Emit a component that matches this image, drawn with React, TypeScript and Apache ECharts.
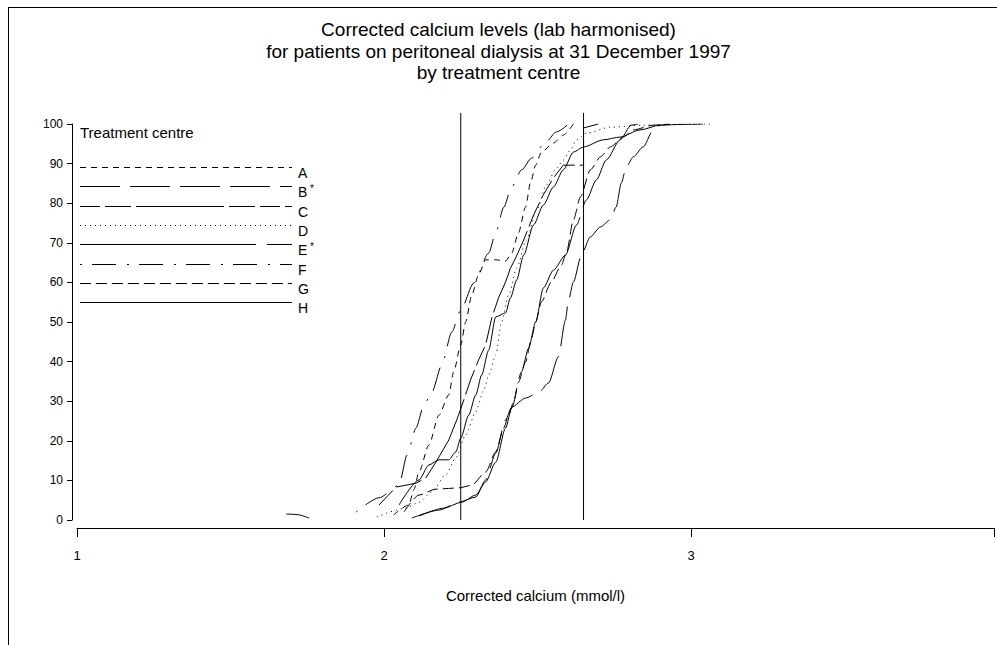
import React, { useEffect, useRef } from "react";
import * as echarts from "echarts";

// Treatment centres (legend order) and centres flagged with an asterisk
const centres = ["A", "B", "C", "D", "E", "F", "G", "H"];
const starred = ["B", "E"];

// Reference range lines (mmol/l)
const refLines = [2.25, 2.65];
const refLineTop = 102.8;

// Axis ticks
const xTickLabels = [1, 2, 3];
const yTickStep = 10;

// Cumulative % of patients vs corrected calcium (mmol/l)
const centreA = [
  [2.032, 1.3], [2.081, 3.8], [2.097, 7.6], [2.114, 12.1], [2.146, 18.9], [2.179, 26.5],
  [2.211, 31.6], [2.227, 37.4], [2.25, 44.2], [2.266, 50], [2.286, 56.8], [2.308, 61.9],
  [2.331, 65.7], [2.364, 65.7], [2.396, 65.4], [2.416, 67.4], [2.438, 72.5], [2.461, 79],
  [2.477, 85.1], [2.494, 89.6], [2.513, 92.9], [2.552, 95.2], [2.584, 97.2], [2.617, 100],
];
const centreB = [
  [2.091, 0.5], [2.179, 2.5], [2.244, 4.5], [2.299, 5.8], [2.331, 10.1], [2.364, 16.9],
  [2.396, 25.3], [2.416, 28.5], [2.461, 30.8], [2.503, 32.1], [2.536, 34.6], [2.568, 41.2],
  [2.591, 50.5], [2.601, 55.6], [2.617, 60.1], [2.643, 66.9], [2.672, 71.5], [2.705, 74],
  [2.737, 75.8], [2.756, 79], [2.773, 85.1], [2.789, 89.1], [2.812, 91.7], [2.844, 94.2],
  [2.877, 98.5], [2.899, 99.7], [2.932, 100],
];
const centreC = [
  [1.984, 3.8], [2.039, 8.3], [2.104, 9.3], [2.136, 10.6], [2.169, 14.6], [2.211, 20.2],
  [2.237, 25.3], [2.26, 30.3], [2.282, 35.4], [2.308, 40.4], [2.331, 44.2], [2.351, 51],
  [2.373, 56.1], [2.396, 60.1], [2.412, 63.6], [2.429, 66.2], [2.455, 70.7], [2.487, 77],
  [2.519, 82.1], [2.552, 86.4], [2.584, 89.6], [2.65, 89.6], [2.65, 99], [2.698, 100],
];
const centreD = [
  [1.977, 0.8], [2.071, 3], [2.114, 4.5], [2.156, 7.1], [2.201, 11.4], [2.234, 15.7],
  [2.266, 21.5], [2.299, 27.3], [2.325, 32.8], [2.341, 36.6], [2.364, 41.7], [2.383, 50],
  [2.406, 56.8], [2.432, 63.6], [2.464, 70.7], [2.497, 78.3], [2.529, 84.6], [2.562, 88.9],
  [2.584, 90.9], [2.607, 93.4], [2.627, 96], [2.659, 97.7], [2.737, 99.2], [2.844, 99.7],
  [2.951, 99.9], [3.062, 100],
];
const centreELow = [[1.682, 1.5], [1.724, 1.3], [1.756, 0.5]];
const centreE = [
  [2.114, 1], [2.195, 3], [2.253, 4.5], [2.299, 6.3], [2.331, 9.6], [2.364, 14.6],
  [2.396, 23.2], [2.416, 28.3], [2.448, 37.4], [2.471, 43.4], [2.494, 50], [2.519, 58.6],
  [2.552, 63.1], [2.591, 66.9], [2.627, 74.5], [2.659, 80.8], [2.692, 85.9], [2.724, 90.9],
  [2.769, 96], [2.805, 99.7], [2.828, 100],
];
const centreF = [
  [1.909, 2], [1.984, 5.6], [2.049, 8.8], [2.075, 16.4], [2.104, 23.2], [2.13, 29],
  [2.156, 32.3], [2.188, 39.1], [2.221, 47.5], [2.25, 53], [2.292, 59.8], [2.341, 67.4],
  [2.364, 72.5], [2.39, 79], [2.416, 84.1], [2.448, 88.4], [2.481, 91.4], [2.519, 94.7],
  [2.562, 98], [2.601, 100],
];
const centreG = [
  [2.065, 2], [2.114, 6.3], [2.169, 7.8], [2.244, 8.1], [2.286, 8.8], [2.331, 12.1],
  [2.364, 17.2], [2.39, 23.2], [2.406, 26.5], [2.422, 29.8], [2.438, 34.8], [2.461, 39.9],
  [2.481, 46], [2.494, 50], [2.513, 55.1], [2.545, 60.1], [2.578, 64.4], [2.594, 67.4],
  [2.617, 75.8], [2.64, 81.6], [2.672, 88.4], [2.705, 91.7], [2.737, 94.2], [2.779, 96.7],
  [2.812, 98.5], [2.877, 99.7], [2.925, 100],
];
const centreH = [
  [2.049, 3.8], [2.114, 10.1], [2.146, 13.9], [2.179, 15.2], [2.211, 15.2], [2.234, 17.2],
  [2.25, 20.7], [2.276, 26.5], [2.299, 31.6], [2.318, 36.6], [2.341, 42.9], [2.364, 51.3],
  [2.396, 52.3], [2.412, 56.1], [2.432, 60.6], [2.455, 66.9], [2.487, 74.5], [2.519, 79.5],
  [2.552, 84.1], [2.584, 88.4], [2.617, 92.9], [2.65, 94.2], [2.714, 96], [2.769, 96.7],
  [2.834, 98.5], [2.899, 99.7], [2.974, 99.9], [3.039, 100],
];

const centreData: Record<string, number[][]> = {
  A: centreA, B: centreB, C: centreC, D: centreD,
  E: centreE, F: centreF, G: centreG, H: centreH,
};

// Line dash styles per centre
const dashStyle: Record<string, any> = {
  A: [6, 5],
  B: [40, 10],
  C: [20, 5, 26, 5, 88, 5, 26, 5],
  D: [1, 4],
  E: [176, 11],
  F: [2, 10, 24, 11],
  G: [11, 5],
  H: "solid",
};

const FONT = "'Liberation Sans', Arial, sans-serif";

export default function App() {
  const ref = useRef<HTMLDivElement>(null);

  useEffect(() => {
    const chart = echarts.init(ref.current!, null, { renderer: "svg" });

    const curveSeries: any[] = centres.map((c) => ({
      name: c,
      type: "line",
      data: centreData[c],
      symbol: "none",
      showSymbol: false,
      silent: true,
      smooth: c === "C" ? false : 0.25,
      smoothMonotone: "x",
      lineStyle: { color: "#000", width: 1, type: dashStyle[c] },
      itemStyle: { color: "#000" },
      z: 3,
    }));

    curveSeries.push({
      name: "E-low",
      type: "line",
      data: centreELow,
      symbol: "none",
      showSymbol: false,
      silent: true,
      smooth: 0.25,
      lineStyle: { color: "#000", width: 1, type: dashStyle.E },
      z: 3,
    });

    refLines.forEach((v, i) => {
      curveSeries.push({
        name: "ref" + i,
        type: "line",
        data: [[v, 0], [v, refLineTop]],
        symbol: "none",
        showSymbol: false,
        silent: true,
        clip: false,
        lineStyle: { color: "#000", width: 1, type: "solid" },
        z: 2,
      });
    });

    // Legend drawn as graphic elements (long line samples with dash patterns)
    const legendX0 = 80;
    const legendX1 = 292;
    const legendY0 = 167;
    const legendStep = 19.3;
    const legendGraphics: any[] = [];
    centres.forEach((c, i) => {
      const y = Math.round(legendY0 + i * legendStep) + 0.5;
      legendGraphics.push({
        type: "line",
        shape: { x1: legendX0, y1: y, x2: legendX1, y2: y },
        style: {
          stroke: "#000",
          lineWidth: 1,
          lineDash: Array.isArray(dashStyle[c]) ? dashStyle[c] : null,
        },
      });
      legendGraphics.push({
        type: "text",
        x: 298,
        y: y + 5,
        style: {
          text: starred.includes(c) ? `{n|${c}}{s| *}` : `{n|${c}}`,
          fontFamily: FONT,
          fontSize: 14,
          fill: "#000",
          verticalAlign: "middle",
          rich: {
            n: { fontFamily: FONT, fontSize: 14, fill: "#000" },
            s: { fontFamily: FONT, fontSize: 10, fill: "#000", padding: [0, 0, 6, 0] },
          },
        },
      });
    });

    const option: any = {
      animation: false,
      backgroundColor: "#fff",
      title: {
        text:
          "Corrected calcium levels (lab harmonised)\nfor patients on peritoneal dialysis at 31 December 1997\nby treatment centre",
        left: "center",
        top: 14,
        textStyle: {
          fontFamily: FONT,
          fontSize: 19,
          fontWeight: "normal",
          color: "#000",
          lineHeight: 21.5,
          align: "center",
        },
      },
      grid: { left: 77, right: 0, top: 124, bottom: 125, containLabel: false },
      xAxis: {
        type: "value",
        position: "bottom",
        min: xTickLabels[0],
        max: 3.987,
        interval: 1,
        offset: 8,
        name: "Corrected calcium (mmol/l)",
        nameLocation: "middle",
        nameGap: 60,
        nameTextStyle: { fontFamily: FONT, fontSize: 15, color: "#000" },
        axisLine: { show: true, onZero: false, lineStyle: { color: "#000", width: 1 } },
        axisTick: { show: true, length: 9, lineStyle: { color: "#000" } },
        axisLabel: {
          fontFamily: FONT,
          fontSize: 13,
          color: "#000",
          margin: 21,
          formatter: (v: number) => (xTickLabels.includes(v) ? String(v) : ""),
        },
        splitLine: { show: false },
      },
      yAxis: {
        type: "value",
        position: "left",
        min: 0,
        max: 100,
        interval: yTickStep,
        offset: 5,
        axisLine: { show: true, onZero: false, lineStyle: { color: "#000", width: 1 } },
        axisTick: { show: true, length: 5, lineStyle: { color: "#000" } },
        axisLabel: { fontFamily: FONT, fontSize: 12, color: "#000", margin: 9 },
        splitLine: { show: false },
      },
      graphic: [
        {
          type: "text",
          left: 80,
          top: 125,
          style: { text: "Treatment centre", fontFamily: FONT, fontSize: 15, fill: "#000" },
        },
        {
          type: "line",
          shape: { x1: 8, y1: 7.5, x2: 997, y2: 7.5 },
          style: { stroke: "#000", lineWidth: 1 },
        },
        {
          type: "line",
          shape: { x1: 8.5, y1: 7, x2: 8.5, y2: 645 },
          style: { stroke: "#000", lineWidth: 1 },
        },
        ...legendGraphics,
      ],
      series: curveSeries,
    };

    chart.setOption(option);
    return () => chart.dispose();
  }, []);

  return (
    <div
      ref={ref}
      style={{ position: "fixed", left: 0, top: 0, width: 997, height: 645, background: "#fff" }}
    />
  );
}
